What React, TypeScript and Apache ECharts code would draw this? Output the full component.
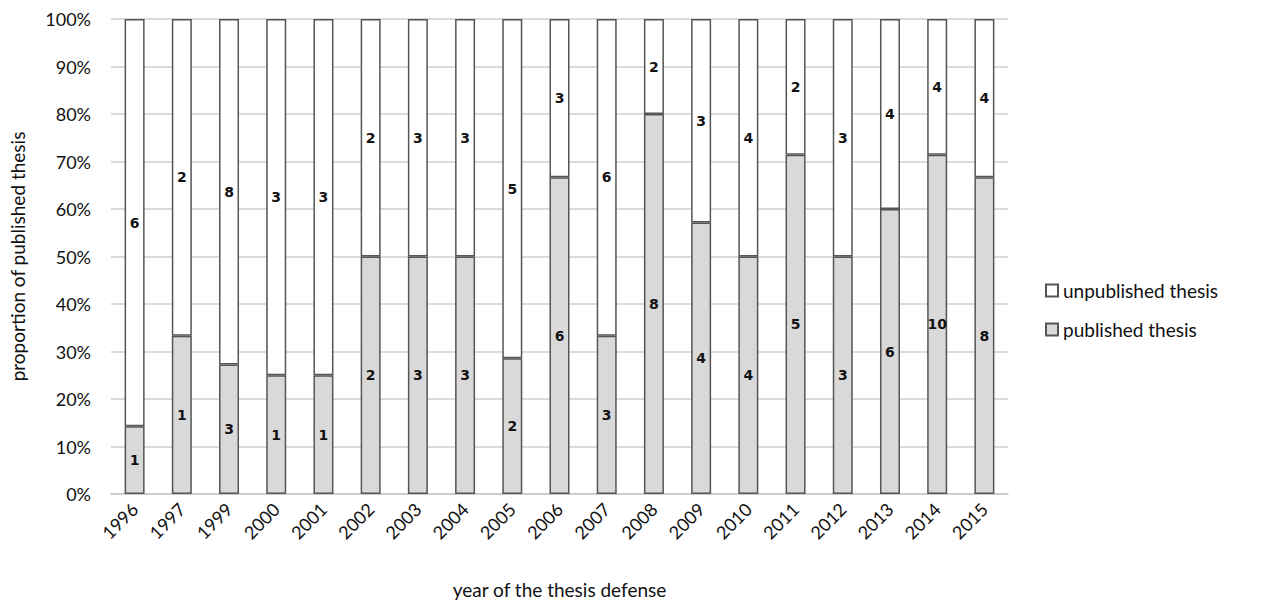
import React, { useEffect, useRef } from "react";
import * as echarts from "echarts";

const years = ["1996","1997","1999","2000","2001","2002","2003","2004","2005","2006","2007","2008","2009","2010","2011","2012","2013","2014","2015"];
const published = [1,1,3,1,1,2,3,3,2,6,3,8,4,4,5,3,6,10,8];
const unpublished = [6,2,8,3,3,2,3,3,5,3,6,2,3,4,2,3,4,4,4];

const FONT = "Lato";

export default function App() {
  const ref = useRef<HTMLDivElement>(null);
  useEffect(() => {
    document.body.style.margin = "0";
    const chart = echarts.init(ref.current!, null, { renderer: "svg" });
    const totals = years.map((_, i) => published[i] + unpublished[i]);
    const pubPct = published.map((v, i) => (v / totals[i]) * 100);
    const unpubPct = unpublished.map((v, i) => (v / totals[i]) * 100);
    const labelStyle = {
      show: true,
      position: "inside",
      color: "#111",
      fontFamily: "DejaVu Sans",
      fontWeight: "bold",
      fontSize: 14,
    };
    chart.setOption({
      animation: false,
      backgroundColor: "#fff",
      grid: { left: 111, right: 258, top: 19, bottom: 106 },
      legend: {
        orient: "vertical",
        left: 1040,
        top: 276,
        icon: "rect",
        itemWidth: 12,
        itemHeight: 12,
        itemGap: 20,
        data: ["unpublished thesis", "published thesis"],
        textStyle: { fontFamily: FONT, fontSize: 19, color: "#111" },
      },
      xAxis: {
        type: "category",
        data: years,
        name: "year of the thesis defense",
        nameLocation: "middle",
        nameGap: 86,
        nameTextStyle: { fontFamily: FONT, fontSize: 19, color: "#111" },
        axisLine: { show: true, lineStyle: { color: "#c8c8c8", width: 1.5 } },
        axisTick: { show: false },
        axisLabel: { rotate: 45, margin: 12, fontFamily: FONT, fontSize: 18, color: "#111" },
      },
      yAxis: {
        type: "value",
        min: 0,
        max: 100,
        interval: 10,
        name: "proportion of published thesis",
        nameLocation: "middle",
        nameGap: 84,
        nameTextStyle: { fontFamily: FONT, fontSize: 19, color: "#111" },
        axisLine: { show: false },
        axisTick: { show: false },
        axisLabel: { formatter: "{value}%", margin: 20, fontFamily: FONT, fontSize: 18, color: "#111" },
        splitLine: { lineStyle: { color: "#cfcfcf", width: 1.5 } },
      },
      series: [
        {
          name: "published thesis",
          type: "bar",
          stack: "all",
          barWidth: 20,
          data: pubPct,
          itemStyle: { color: "#d9d9d9", borderColor: "#555", borderWidth: 1.5 },
          label: { ...labelStyle, formatter: (p: any) => String(published[p.dataIndex]) },
        },
        {
          name: "unpublished thesis",
          type: "bar",
          stack: "all",
          barWidth: 20,
          data: unpubPct,
          itemStyle: { color: "#ffffff", borderColor: "#555", borderWidth: 1.5 },
          label: { ...labelStyle, formatter: (p: any) => String(unpublished[p.dataIndex]) },
        },
      ],
    });
    return () => chart.dispose();
  }, []);
  return <div ref={ref} style={{ width: 1266, height: 604 }} />;
}
